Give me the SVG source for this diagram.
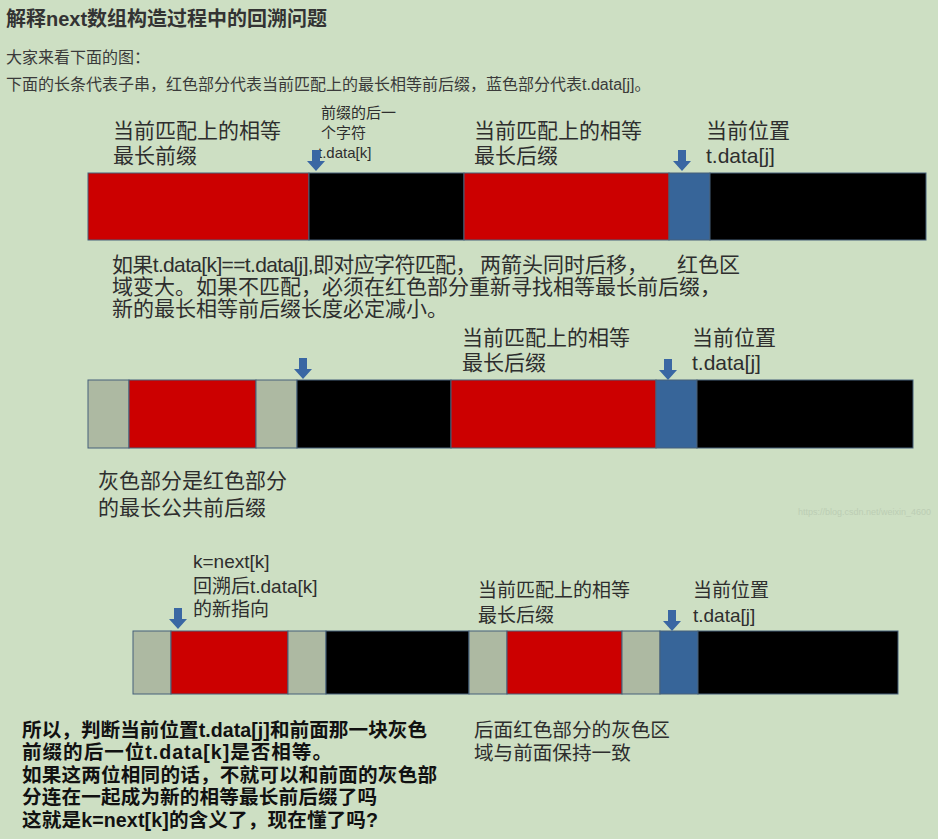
<svg xmlns="http://www.w3.org/2000/svg" xmlns:xlink="http://www.w3.org/1999/xlink" width="938" height="839" viewBox="0 0 938 839">
<style>
text{font-family:"Liberation Sans","Noto Sans CJK SC",sans-serif;fill:#2e2e2e}
.title{font-size:20px;font-weight:bold;fill:#333}
.intro{font-size:16px;fill:#3a3a3a}
.lbl{font-size:21px}
.lbl19{font-size:19px}
.small{font-size:15px}
.mid{font-size:21px}
.note{font-size:19.6px}
.bold{font-size:19.6px;font-weight:bold;fill:#111}
.wm{font-size:9px;fill:#bccdb4}
.r{fill:#cc0000}
.k{fill:#000}
.b{fill:#376599}
.g{fill:#adb9a2}
.seg{stroke:#46607a;stroke-width:1}
.arr{fill:#3a67a3}
</style>
<defs>
<path id="arrow" d="M-4,0 H4 V11 H9 L0,21 L-9,11 H-4 Z"/>
</defs>
<rect width="938" height="839" fill="#cddfc3"/>

<g id="header">
<text class="title" x="6" y="26">解释next数组构造过程中的回溯问题</text>
<text class="intro" x="6" y="63">大家来看下面的图：</text>
<text class="intro" x="6" y="90">下面的长条代表子串，红色部分代表当前匹配上的最长相等前后缀，蓝色部分代表t.data[j]。</text>
</g>

<g id="bar1" class="seg">
<rect class="r" x="88" y="173" width="221" height="67"/>
<rect class="k" x="309" y="173" width="155" height="67"/>
<rect class="r" x="464" y="173" width="205" height="67"/>
<rect class="b" x="669" y="173" width="41" height="67"/>
<rect class="k" x="710" y="173" width="216" height="67"/>
</g>
<g id="bar1-labels">
<text class="lbl" x="113" y="138">当前匹配上的相等</text>
<text class="lbl" x="113" y="163">最长前缀</text>
<text class="small" x="321" y="118">前缀的后一</text>
<text class="small" x="321" y="138">个字符</text>
<text class="small" x="318" y="158">t.data[k]</text>
<text class="lbl" x="474" y="138">当前匹配上的相等</text>
<text class="lbl" x="474" y="163">最长后缀</text>
<text class="lbl" x="706" y="138">当前位置</text>
<text class="lbl" x="706" y="163">t.data[j]</text>
</g>

<g id="explain">
<text class="mid" x="112" y="272"><tspan letter-spacing="-0.65">如果t.data[k]==t.data[j],即对应字符匹配，</tspan><tspan x="480">两箭头同时后移，</tspan><tspan x="677">红色区</tspan></text>
<text class="mid" x="112" y="294">域变大。如果不匹配，必须在红色部分重新寻找相等最长前后缀，</text>
<text class="mid" x="112" y="316">新的最长相等前后缀长度必定减小。</text>
</g>

<g id="bar2" class="seg">
<rect class="g" x="88" y="380" width="41" height="68"/>
<rect class="r" x="129" y="380" width="127" height="68"/>
<rect class="g" x="256" y="380" width="41" height="68"/>
<rect class="k" x="297" y="380" width="154" height="68"/>
<rect class="r" x="451" y="380" width="205" height="68"/>
<rect class="b" x="656" y="380" width="41" height="68"/>
<rect class="k" x="697" y="380" width="216" height="68"/>
</g>
<g id="bar2-labels">
<text class="lbl" x="462" y="345">当前匹配上的相等</text>
<text class="lbl" x="462" y="370">最长后缀</text>
<text class="lbl" x="692" y="345">当前位置</text>
<text class="lbl" x="692" y="370">t.data[j]</text>
<text class="lbl" x="98" y="488">灰色部分是红色部分</text>
<text class="lbl" x="98" y="515">的最长公共前后缀</text>
</g>

<text class="wm" x="798" y="515">https://blog.csdn.net/weixin_4600</text>

<g id="bar3" class="seg">
<rect class="g" x="133" y="631" width="38" height="63"/>
<rect class="r" x="171" y="631" width="117" height="63"/>
<rect class="g" x="288" y="631" width="38" height="63"/>
<rect class="k" x="326" y="631" width="143" height="63"/>
<rect class="g" x="469" y="631" width="38" height="63"/>
<rect class="r" x="507" y="631" width="115" height="63"/>
<rect class="g" x="622" y="631" width="38" height="63"/>
<rect class="b" x="660" y="631" width="38" height="63"/>
<rect class="k" x="698" y="631" width="200" height="63"/>
</g>
<g id="bar3-labels">
<text class="lbl19" x="193" y="568">k=next[k]</text>
<text class="lbl19" x="193" y="593">回溯后t.data[k]</text>
<text class="lbl19" x="193" y="616">的新指向</text>
<text class="lbl19" x="478" y="597">当前匹配上的相等</text>
<text class="lbl19" x="478" y="622">最长后缀</text>
<text class="lbl19" x="693" y="597">当前位置</text>
<text class="lbl19" x="693" y="622">t.data[j]</text>
</g>

<g id="connectors" class="arr">
<use xlink:href="#arrow" x="316" y="150"/>
<use xlink:href="#arrow" x="682" y="150"/>
<use xlink:href="#arrow" x="303" y="358"/>
<use xlink:href="#arrow" x="668" y="359"/>
<use xlink:href="#arrow" x="178" y="608"/>
<use xlink:href="#arrow" x="672" y="610"/>
</g>

<g id="conclusion">
<text class="bold" x="22" y="737" textLength="405" lengthAdjust="spacing">所以，判断当前位置t.data[j]和前面那一块灰色</text>
<text class="bold" x="22" y="759" textLength="310" lengthAdjust="spacing">前缀的后一位t.data[k]是否相等。</text>
<text class="bold" x="22" y="782" textLength="415" lengthAdjust="spacing">如果这两位相同的话，不就可以和前面的灰色部</text>
<text class="bold" x="22" y="804" textLength="355" lengthAdjust="spacing">分连在一起成为新的相等最长前后缀了吗</text>
<text class="bold" x="22" y="827" textLength="356" lengthAdjust="spacing">这就是k=next[k]的含义了，现在懂了吗?</text>
</g>

<g id="note">
<text class="note" x="474" y="737">后面红色部分的灰色区</text>
<text class="note" x="474" y="760">域与前面保持一致</text>
</g>
</svg>
